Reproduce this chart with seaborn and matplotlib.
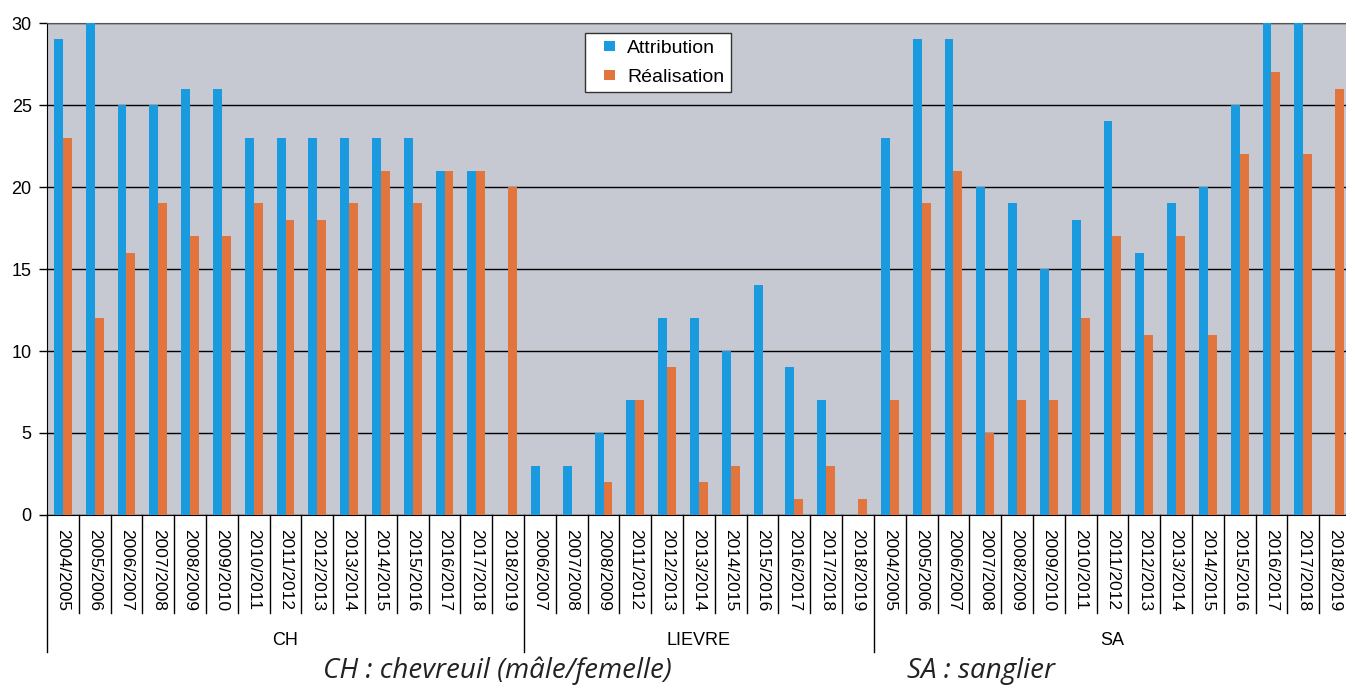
import numpy as np
import pandas as pd
import matplotlib
matplotlib.use("Agg")
import matplotlib.pyplot as plt
import matplotlib.transforms as mtransforms
from matplotlib.patches import Rectangle
from matplotlib.legend_handler import HandlerPatch
import seaborn as sns

# --- data ---
groups = ["CH", "LIEVRE", "SA"]

ch_seasons = ["2004/2005", "2005/2006", "2006/2007", "2007/2008", "2008/2009",
              "2009/2010", "2010/2011", "2011/2012", "2012/2013", "2013/2014",
              "2014/2015", "2015/2016", "2016/2017", "2017/2018", "2018/2019"]
ch_attribution = [29, 30, 25, 25, 26, 26, 23, 23, 23, 23, 23, 23, 21, 21, 0]
ch_realisation = [23, 12, 16, 19, 17, 17, 19, 18, 18, 19, 21, 19, 21, 21, 20]

lievre_seasons = ["2006/2007", "2007/2008", "2008/2009", "2011/2012", "2012/2013",
                  "2013/2014", "2014/2015", "2015/2016", "2016/2017", "2017/2018",
                  "2018/2019"]
lievre_attribution = [3, 3, 5, 7, 12, 12, 10, 14, 9, 7, 0]
lievre_realisation = [0, 0, 2, 7, 9, 2, 3, 0, 1, 3, 1]

sa_seasons = ["2004/2005", "2005/2006", "2006/2007", "2007/2008", "2008/2009",
              "2009/2010", "2010/2011", "2011/2012", "2012/2013", "2013/2014",
              "2014/2015", "2015/2016", "2016/2017", "2017/2018", "2018/2019"]
sa_attribution = [23, 29, 29, 20, 19, 15, 18, 24, 16, 19, 20, 25, 30, 30, 0]
sa_realisation = [7, 19, 21, 5, 7, 7, 12, 17, 11, 17, 11, 22, 27, 22, 26]

series = ["Attribution", "Réalisation"]
captions = ["CH : chevreuil (mâle/femelle)", "SA : sanglier"]

BLUE = "#1a9be0"
ORANGE = "#e2743e"
BG = "#c6c9d2"

group_data = [
    ("CH", ch_seasons, ch_attribution, ch_realisation),
    ("LIEVRE", lievre_seasons, lievre_attribution, lievre_realisation),
    ("SA", sa_seasons, sa_attribution, sa_realisation),
]

rows = []
keys = []
season_labels = []
group_sizes = []
for g, seasons, attr, real in group_data:
    group_sizes.append(len(seasons))
    for s, a, r in zip(seasons, attr, real):
        key = f"{g} {s}"
        keys.append(key)
        season_labels.append(s)
        rows.append({"key": key, "serie": series[0], "value": a})
        rows.append({"key": key, "serie": series[1], "value": r})
df = pd.DataFrame(rows)

plt.rcParams["font.family"] = ["Liberation Sans", "DejaVu Sans"]

fig = plt.figure(figsize=(13.46, 6.87), dpi=100)
ax = fig.add_axes([0.0349, 0.2504, 0.9688, 0.716])
ax.set_facecolor(BG)

sns.barplot(data=df, x="key", y="value", hue="serie", order=keys, hue_order=series,
            palette=[BLUE, ORANGE], width=0.56, gap=0, saturation=1,
            linewidth=0, ax=ax, zorder=3)

ax.set_ylim(0, 30)
ax.set_xlim(-0.5, len(keys) - 0.5)
ax.set_yticks(range(0, 31, 5))
ax.yaxis.grid(True, color="black", linewidth=1)
ax.set_axisbelow(True)
ax.tick_params(axis="y", labelsize=13, length=6, width=1, pad=5, color="black")

ax.set_xticks(range(len(keys)))
ax.set_xticklabels(season_labels, rotation=-90, fontsize=12.5, ha="center", va="top")
ax.tick_params(axis="x", length=0, pad=10)
ax.set_xlabel("")
ax.set_ylabel("")

ax.spines["right"].set_visible(False)
ax.spines["top"].set_color("#555555")
ax.spines["left"].set_color("black")
ax.spines["bottom"].set_color("black")

# separators below the axis
trans = mtransforms.blended_transform_factory(ax.transData, ax.transAxes)
boundaries = np.cumsum([0] + group_sizes)
for i in range(len(keys) + 1):
    depth = -0.278 if i in boundaries else -0.199
    ax.plot([i - 0.5, i - 0.5], [0, depth], transform=trans, color="black",
            linewidth=1, clip_on=False)

# group labels
for g, start, n in zip(groups, boundaries[:-1], group_sizes):
    ax.text(start + (n - 1) / 2, -0.255, g, transform=trans, ha="center",
            va="center", fontsize=13)

# captions
fig.text(0.3696, 0.024, captions[0], family="Open Sans", style="italic",
         fontsize=20, ha="center", va="center", color="#222222")
fig.text(0.729, 0.024, captions[1], family="Open Sans", style="italic",
         fontsize=20, ha="center", va="center", color="#222222")


# small square marker placed at the right of a wider handle box
def small_square(legend, orig_handle, xdescent, ydescent, width, height, fontsize):
    size = 0.52 * fontsize
    return Rectangle((width - xdescent - size, -ydescent + (height - size) / 2),
                     size, size)


handles, labels = ax.get_legend_handles_labels()
leg = ax.legend(handles, labels, loc="upper left", bbox_to_anchor=(0.4126, 0.98),
                fontsize=14, frameon=True, fancybox=False, edgecolor="#333333",
                handlelength=1.2, handleheight=0.7, handletextpad=0.65,
                borderpad=0.32, labelspacing=0.6, borderaxespad=0,
                handler_map={Rectangle: HandlerPatch(patch_func=small_square)})
leg.get_frame().set_linewidth(1)
leg.get_frame().set_facecolor("white")
leg.get_frame().set_alpha(1)

fig.savefig("out.png", dpi=100)
